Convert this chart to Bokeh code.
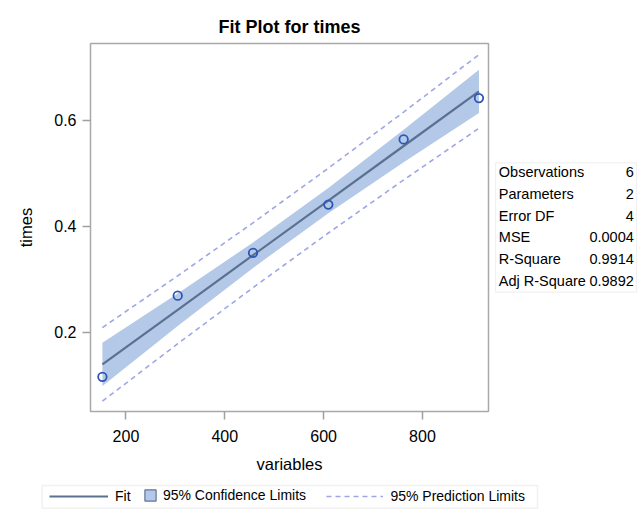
import numpy as np
from bokeh.plotting import figure
from bokeh.layouts import column, row
from bokeh.models import (ColumnDataSource, Legend, LegendItem, Label,
                          BoxAnnotation, Range1d, FixedTicker)
from bokeh.embed import file_html
from bokeh.resources import INLINE

# ---- data ----
variables = [152.4, 304.8, 457.2, 609.6, 762.0, 914.4]
times = [0.116, 0.269, 0.350, 0.441, 0.564, 0.642]
stat_names = ["Observations", "Parameters", "Error DF", "MSE", "R-Square", "Adj R-Square"]
stat_values = ["6", "2", "4", "0.0004", "0.9914", "0.9892"]
legend_labels = ["Fit", "95% Confidence Limits", "95% Prediction Limits"]
x_ticks = [200, 400, 600, 800]
y_ticks = [0.2, 0.4, 0.6]
t_crit = 2.776445  # t(0.975, df = 4)

# ---- linear regression with confidence / prediction limits ----
x = np.array(variables)
y = np.array(times)
n = len(x)
xm = x.mean()
sxx = ((x - xm) ** 2).sum()
slope = ((x - xm) * (y - y.mean())).sum() / sxx
intercept = y.mean() - slope * xm
fit = intercept + slope * x
mse = ((y - fit) ** 2).sum() / (n - 2)
se_mean = np.sqrt(mse * (1.0 / n + (x - xm) ** 2 / sxx))
se_pred = np.sqrt(mse * (1.0 + 1.0 / n + (x - xm) ** 2 / sxx))

src = ColumnDataSource(dict(
    x=x, y=y, fit=fit,
    lcl=fit - t_crit * se_mean, ucl=fit + t_crit * se_mean,
    lpl=fit - t_crit * se_pred, upl=fit + t_crit * se_pred,
))

# ---- layout constants (page px) ----
PAGE_W, PAGE_H = 641, 519
MAIN_W, TOP_H = 492, 480
FL, FR, FT, FB = 90, 488, 43, 411
FONT = "Liberation Sans"

CLM_FILL = "#b3c9e7"
CLM_EDGE = "#5f7597"
FIT_COL = "#5b7192"
PRED_COL = "#9ea6e6"
MARK_COL = "#2f56b5"
BOX_COL = "#d0d0d0"

# ================= main plot =================
p = figure(width=MAIN_W, height=TOP_H, output_backend="svg", toolbar_location=None,
           x_range=Range1d(128.3, 933.7), y_range=Range1d(0.0505, 0.745),
           min_border_left=FL, min_border_right=MAIN_W - FR,
           min_border_top=FT, min_border_bottom=TOP_H - FB,
           title="Fit Plot for times", x_axis_label="variables", y_axis_label="times")

p.background_fill_color = "white"
p.border_fill_color = "white"
p.outline_line_color = "#a9a9a9"
p.outline_line_width = 1.5
p.xgrid.grid_line_color = None
p.ygrid.grid_line_color = None

p.title.text_font = FONT
p.title.text_font_size = "18px"
p.title.text_font_style = "bold"
p.title.text_color = "#000000"
p.title.align = "center"
p.title.standoff = 13

p.xaxis.ticker = FixedTicker(ticks=x_ticks)
p.yaxis.ticker = FixedTicker(ticks=y_ticks)
for ax in (p.xaxis[0], p.yaxis[0]):
    ax.axis_line_color = None
    ax.major_tick_line_color = "#a0a0a0"
    ax.major_tick_line_width = 1.5
    ax.major_tick_out = 8
    ax.major_tick_in = 0
    ax.minor_tick_line_color = None
    ax.major_label_text_font = FONT
    ax.major_label_text_font_size = "16px"
    ax.major_label_text_color = "#000000"
    ax.axis_label_text_font = FONT
    ax.axis_label_text_font_size = "16.5px"
    ax.axis_label_text_font_style = "normal"
    ax.axis_label_text_color = "#000000"
p.xaxis.major_label_standoff = 10
p.yaxis.major_label_standoff = 6
p.xaxis.axis_label_standoff = 10
p.yaxis.axis_label_standoff = 16

p.varea(x="x", y1="lcl", y2="ucl", source=src, fill_color=CLM_FILL, fill_alpha=1.0)
p.line(x="x", y="upl", source=src, line_color=PRED_COL, line_width=1.6, line_dash="5 4")
p.line(x="x", y="lpl", source=src, line_color=PRED_COL, line_width=1.6, line_dash="5 4")
p.line(x="x", y="fit", source=src, line_color=FIT_COL, line_width=2.2)
p.scatter(x="x", y="y", source=src, marker="circle", size=8.5,
          fill_color=None, line_color=MARK_COL, line_width=1.8)

def bare(fig):
    fig.xaxis.visible = False
    fig.yaxis.visible = False
    fig.xgrid.visible = False
    fig.ygrid.visible = False
    fig.outline_line_color = None
    fig.background_fill_color = "white"
    fig.border_fill_color = "white"
    return fig

# ================= fit statistics panel (frame aligned with main plot) =================
SIDE_W = PAGE_W - MAIN_W
ps = bare(figure(width=SIDE_W, height=TOP_H, output_backend="svg", toolbar_location=None,
                 x_range=Range1d(0, 1), y_range=Range1d(0, 1),
                 min_border_left=0, min_border_right=0,
                 min_border_top=FT, min_border_bottom=TOP_H - FB))

def side_x(px):
    return px - MAIN_W

def side_y(py):
    return FB - py

BOX_L, BOX_R, BOX_T, BOX_B = 495.0, 636.0, 162.3, 291.7
ps.add_layout(BoxAnnotation(left=side_x(BOX_L), right=side_x(BOX_R),
                            top=side_y(BOX_T), bottom=side_y(BOX_B),
                            left_units="screen", right_units="screen",
                            top_units="screen", bottom_units="screen",
                            fill_color="white", fill_alpha=1.0,
                            line_color=BOX_COL, line_width=1.2))
ROW0, ROW_STEP = 171.8, 21.65
for i, (nm, vl) in enumerate(zip(stat_names, stat_values)):
    cy = ROW0 + ROW_STEP * i
    ps.add_layout(Label(x=side_x(BOX_L + 3.3), y=side_y(cy), x_units="screen", y_units="screen",
                        text=nm, text_font=FONT, text_font_size="14.5px",
                        text_color="#000000", text_align="left", text_baseline="middle"))
    ps.add_layout(Label(x=side_x(BOX_R - 2.7), y=side_y(cy), x_units="screen", y_units="screen",
                        text=vl, text_font=FONT, text_font_size="14.5px",
                        text_color="#000000", text_align="right", text_baseline="middle"))

# ================= legend strip =================
LEG_H = PAGE_H - TOP_H
pl = bare(figure(width=PAGE_W, height=LEG_H, output_backend="svg", toolbar_location=None,
                 x_range=Range1d(0, 1), y_range=Range1d(0, 1),
                 min_border_left=0, min_border_right=0, min_border_top=0, min_border_bottom=0))

def leg_y(py):
    return PAGE_H - py

# legend proxy renderers: same data, but far outside this strip's ranges, so only
# their legend swatches show
g_fit = pl.line(x="x", y="fit", source=src, line_color=FIT_COL, line_width=2.2)
g_clm = pl.quad(left="x", right="x", top="ucl", bottom="lcl", source=src,
                fill_color=CLM_FILL, line_color=CLM_EDGE, line_width=1.2)
g_pred = pl.line(x="x", y="upl", source=src, line_color=PRED_COL, line_width=1.6,
                 line_dash="5 4")

LEG_CY = 496.3
common = dict(orientation="horizontal", padding=0, margin=0, spacing=0,
              border_line_color=None, background_fill_alpha=0.0,
              label_text_font=FONT, label_text_font_size="14px",
              label_text_color="#000000")
legA = Legend(items=[LegendItem(label=legend_labels[0], renderers=[g_fit])],
              location=(49.0, leg_y(LEG_CY + 10)), glyph_width=59, glyph_height=20,
              label_height=20, label_standoff=7, **common)
legB = Legend(items=[LegendItem(label=legend_labels[1], renderers=[g_clm])],
              location=(142.9, leg_y(LEG_CY + 7)), glyph_width=14, glyph_height=14,
              label_height=14, label_standoff=6, **common)
legC = Legend(items=[LegendItem(label=legend_labels[2], renderers=[g_pred])],
              location=(326.4, leg_y(LEG_CY + 10)), glyph_width=57, glyph_height=20,
              label_height=20, label_standoff=7, **common)
for lg in (legA, legB, legC):
    pl.add_layout(lg)

pl.add_layout(BoxAnnotation(left=41.7, right=537.0, top=leg_y(485.0), bottom=leg_y(507.7),
                            left_units="screen", right_units="screen",
                            top_units="screen", bottom_units="screen",
                            fill_alpha=0.0, line_color=BOX_COL, line_width=1.5))

layout = column(row(p, ps, spacing=0), pl, spacing=0)
open("out.html", "w").write(file_html(layout, INLINE))
